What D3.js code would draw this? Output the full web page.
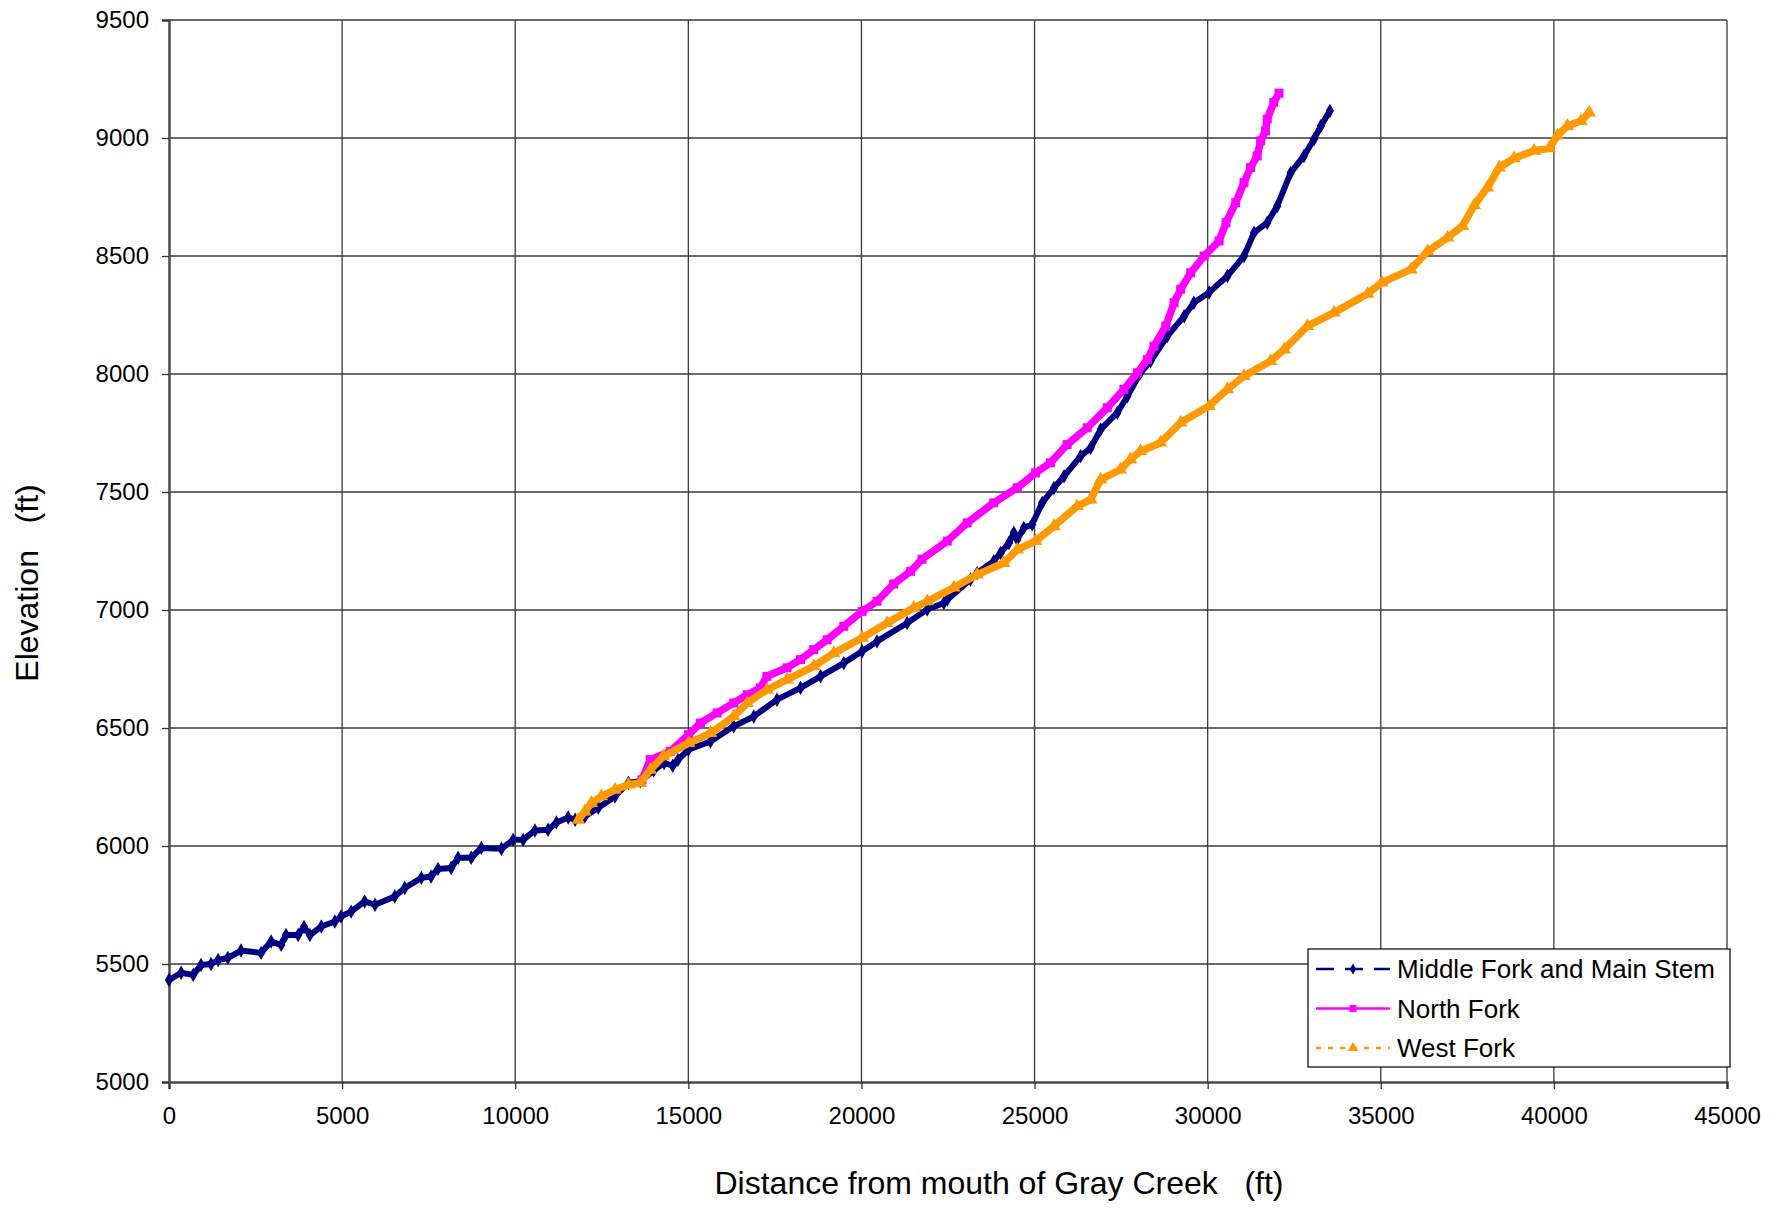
<!DOCTYPE html>
<html>
<head>
<meta charset="utf-8">
<script src="https://cdn.jsdelivr.net/npm/d3@7"></script>
<style>
  body { margin: 0; background: #fff; }
  svg { display: block; font-family: "Liberation Sans", Arial, sans-serif; }
</style>
</head>
<body>
<div id="chart"></div>
<script>
// Distance from mouth (ft) and elevation (ft)
const midDist = [0, 350, 700, 925, 1215, 1420, 1700, 2080, 2660, 2950, 3240, 3380, 3730, 3900, 4070, 4400, 4790, 4970, 5260, 5650, 5950, 6520, 6810, 7290, 7570, 7770, 8150, 8350, 8730, 9020, 9600, 9940, 10230, 10570, 10950, 11190, 11530, 11730, 12010, 12400, 12880, 13270, 13610, 14000, 14300, 14550, 14700, 15000, 15640, 16310, 16890, 17560, 18240, 18820, 19490, 20020, 20450, 21320, 21900, 22380, 22480, 23150, 23340, 23820, 24020, 24260, 24400, 24500, 24690, 24930, 25220, 25560, 25850, 26330, 26620, 26910, 27390, 27680, 28060, 28350, 28830, 29320, 29600, 30040, 30570, 31050, 31340, 31720, 32010, 32400, 32780, 33070, 33270, 33530];
const midElev = [5432, 5463, 5454, 5496, 5500, 5517, 5526, 5557, 5547, 5595, 5581, 5623, 5623, 5657, 5623, 5659, 5680, 5701, 5722, 5765, 5751, 5786, 5822, 5865, 5871, 5903, 5907, 5950, 5950, 5992, 5988, 6026, 6026, 6066, 6069, 6100, 6121, 6111, 6125, 6162, 6210, 6268, 6274, 6320, 6352, 6340, 6365, 6408, 6443, 6507, 6549, 6620, 6670, 6719, 6775, 6825, 6867, 6945, 7002, 7030, 7044, 7129, 7157, 7207, 7242, 7284, 7327, 7299, 7348, 7362, 7454, 7517, 7567, 7652, 7687, 7765, 7836, 7906, 8005, 8054, 8160, 8245, 8302, 8345, 8415, 8500, 8599, 8641, 8712, 8853, 8924, 8995, 9051, 9115];

const northDist = [13660, 13900, 14480, 15010, 15350, 15830, 16310, 16700, 17080, 17270, 17850, 18240, 18620, 19010, 19490, 20020, 20450, 20930, 21420, 21750, 22480, 23050, 23820, 24500, 25030, 25460, 25940, 26520, 27100, 27580, 27970, 28260, 28450, 28790, 29030, 29220, 29510, 29900, 30330, 30530, 30810, 31050, 31240, 31430, 31530, 31670, 31720, 31910, 32060];
const northElev = [6280, 6366, 6401, 6472, 6521, 6564, 6606, 6641, 6670, 6719, 6755, 6790, 6832, 6874, 6931, 6994, 7037, 7110, 7164, 7215, 7292, 7369, 7454, 7518, 7581, 7624, 7701, 7772, 7857, 7935, 8005, 8062, 8118, 8203, 8302, 8359, 8429, 8500, 8564, 8641, 8726, 8811, 8875, 8924, 8988, 9030, 9080, 9151, 9190];

const westDist = [11820, 12010, 12200, 12490, 12880, 13270, 13610, 13900, 14280, 15010, 15640, 16310, 16700, 17270, 17850, 18620, 19200, 20020, 20740, 21510, 21900, 22670, 23340, 24110, 24500, 25030, 25560, 26230, 26620, 26910, 27480, 27770, 28060, 28640, 29220, 30040, 30570, 31050, 31820, 32210, 32880, 33650, 34620, 35030, 35870, 36350, 36930, 37360, 37700, 38080, 38420, 38850, 39430, 39860, 40100, 40390, 40780, 41020];
const westElev = [6111, 6146, 6182, 6210, 6238, 6260, 6267, 6323, 6380, 6436, 6478, 6549, 6606, 6662, 6705, 6761, 6817, 6882, 6945, 7009, 7037, 7095, 7150, 7199, 7256, 7292, 7355, 7440, 7468, 7553, 7595, 7638, 7673, 7709, 7794, 7864, 7935, 7991, 8055, 8104, 8203, 8260, 8340, 8387, 8443, 8520, 8578, 8627, 8715, 8790, 8875, 8914, 8946, 8956, 9010, 9051, 9072, 9108];

const seriesNames = ["Middle Fork and Main Stem", "North Fork", "West Fork"];
const xTicks = [0, 5000, 10000, 15000, 20000, 25000, 30000, 35000, 40000, 45000];
const yTicks = [5000, 5500, 6000, 6500, 7000, 7500, 8000, 8500, 9000, 9500];

const width = 1784, height = 1208;
const plotLeft = 169, plotRight = 1727, plotTop = 20, plotBottom = 1082;

const svg = d3.select("#chart").append("svg")
    .attr("width", width)
    .attr("height", height);

const x = d3.scaleLinear().domain([0, 45000]).range([plotLeft, plotRight]);
const y = d3.scaleLinear().domain([5000, 9500]).range([plotBottom, plotTop]);

// gridlines
svg.append("g")
    .selectAll("line")
    .data(xTicks.slice(1))
    .enter().append("line")
    .attr("x1", d => x(d)).attr("x2", d => x(d))
    .attr("y1", plotTop).attr("y2", plotBottom)
    .attr("stroke", "#3a3a3a")
    .attr("stroke-width", 1.3);

svg.append("g")
    .selectAll("line")
    .data(yTicks.slice(1))
    .enter().append("line")
    .attr("x1", plotLeft).attr("x2", plotRight)
    .attr("y1", d => y(d)).attr("y2", d => y(d))
    .attr("stroke", "#3a3a3a")
    .attr("stroke-width", 1.3);

// axes
const xAxis = svg.append("g")
    .attr("transform", `translate(0,${plotBottom})`)
    .call(d3.axisBottom(x).tickValues(xTicks).tickSize(7).tickPadding(18).tickFormat(d3.format("d")));
const yAxis = svg.append("g")
    .attr("transform", `translate(${plotLeft},0)`)
    .call(d3.axisLeft(y).tickValues(yTicks).tickSize(7).tickPadding(13).tickFormat(d3.format("d")));

[xAxis, yAxis].forEach(a => {
    a.select(".domain").attr("stroke", "#4a4a4a").attr("stroke-width", 2.5);
    a.selectAll(".tick line").attr("stroke", "#333").attr("stroke-width", 1.3);
    a.selectAll("text")
        .attr("fill", "#000")
        .style("font-size", "24px")
        .style("font-family", "'Liberation Sans', Arial, sans-serif");
});

const series = [
    { name: seriesNames[0], dist: midDist, elev: midElev, color: "#000080", symbol: d3.symbolDiamond, size: 60, lw: 6, dash: "18,11" },
    { name: seriesNames[1], dist: northDist, elev: northElev, color: "#ff00ff", symbol: d3.symbolSquare, size: 81, lw: 7.5, dash: null },
    { name: seriesNames[2], dist: westDist, elev: westElev, color: "#ff9900", symbol: d3.symbolTriangle, size: 80, lw: 7.5, dash: "5,7" }
];

const line = d3.line()
    .x(d => x(d[0]))
    .y(d => y(d[1]));

series.forEach(s => {
    const pts = s.dist.map((d, i) => [d, s.elev[i]]);
    const g = svg.append("g");
    g.append("path")
        .datum(pts)
        .attr("d", line)
        .attr("fill", "none")
        .attr("stroke", s.color)
        .attr("stroke-width", s.lw)
        .attr("stroke-linejoin", "round");
    g.selectAll("path.marker")
        .data(pts)
        .enter().append("path")
        .attr("class", "marker")
        .attr("d", d3.symbol().type(s.symbol).size(s.size))
        .attr("transform", d => `translate(${x(d[0])},${y(d[1])})`)
        .attr("fill", s.color);
});

// legend
const lg = svg.append("g");
lg.append("rect")
    .attr("x", 1308).attr("y", 949)
    .attr("width", 422).attr("height", 118)
    .attr("fill", "#fff")
    .attr("stroke", "#000")
    .attr("stroke-width", 1.2);

series.forEach((s, i) => {
    const cy = 969 + i * 39.5;
    lg.append("line")
        .attr("x1", 1316).attr("x2", 1390)
        .attr("y1", cy).attr("y2", cy)
        .attr("stroke", s.color)
        .attr("stroke-width", 2.5)
        .attr("stroke-dasharray", s.dash);
    lg.append("path")
        .attr("d", d3.symbol().type(s.symbol).size(s.size * 0.6))
        .attr("transform", `translate(1353,${cy})`)
        .attr("fill", s.color);
    lg.append("text")
        .attr("x", 1397).attr("y", cy)
        .attr("dy", "0.36em")
        .style("font-size", "26px")
        .text(s.name);
});

// axis titles
svg.append("text")
    .attr("x", 999).attr("y", 1194)
    .attr("text-anchor", "middle")
    .style("font-size", "32px")
    .style("white-space", "pre")
    .text("Distance from mouth of Gray Creek   (ft)");

svg.append("text")
    .attr("transform", "translate(38,583) rotate(-90)")
    .attr("text-anchor", "middle")
    .style("font-size", "32px")
    .style("white-space", "pre")
    .text("Elevation   (ft)");
</script>
</body>
</html>
